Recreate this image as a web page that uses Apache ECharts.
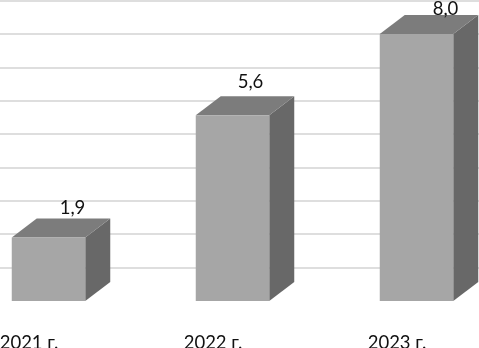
<!DOCTYPE html>
<html><head><meta charset="utf-8">
<style>html,body{margin:0;padding:0;background:#fff}#c{width:479px;height:348px}</style>
<script src="https://cdn.jsdelivr.net/npm/echarts@6/dist/echarts.min.js"></script>
</head><body><div id="c"></div>
<script>
const categories = ['2021 г.', '2022 г.', '2023 г.'];
const values = [1.9, 5.56, 8.0];
const tickValues = [0, 9];
const labelShiftX = [4, -2, 9];
const labelShiftY = [1, -2, 6];

const chart = echarts.init(document.getElementById('c'), null, {renderer: 'canvas'});
function poly(points, fill) {
  return {type: 'polygon', shape: {points}, style: {fill}};
}
chart.setOption({
  animation: false,
  backgroundColor: '#fff',
  grid: {left: -63, right: -10, top: 0.5, bottom: 47, outerBoundsMode: 'none', containLabel: false},
  xAxis: {
    type: 'category', data: categories,
    axisLine: {show: false}, axisTick: {show: false},
    axisLabel: {color: '#111', fontFamily: 'Lato', fontSize: 18.5, margin: 33, interval: 0}
  },
  yAxis: {
    type: 'value', min: tickValues[0], max: tickValues[1], interval: 1,
    axisLine: {show: false}, axisTick: {show: false}, axisLabel: {show: false},
    splitLine: {show: true, showMinLine: false, lineStyle: {color: '#dedede', width: 2}}
  },
  series: [{
    type: 'custom',
    data: values.map((v, i) => [i, v]),
    encode: {x: 0, y: 1},
    clip: false,
    renderItem(params, api) {
      const i = api.value(0), v = api.value(1);
      const top = api.coord([i, v]);
      const base = api.coord([i, 0]);
      const w = 73.5, dx = 25, dy = 19, off = 19.5;
      const x0 = top[0] + off - w / 2, x1 = x0 + w;
      const yT = top[1], yB = base[1];
      return {
        type: 'group',
        children: [
          poly([[x1, yT], [x1 + dx, yT - dy], [x1 + dx, yB - dy], [x1, yB]], '#686868'),
          poly([[x0, yT], [x0 + dx, yT - dy], [x1 + dx, yT - dy], [x1, yT]], '#7c7c7c'),
          poly([[x0, yT], [x1, yT], [x1, yB], [x0, yB]], '#a6a6a6'),
          {
            type: 'text',
            z2: 10,
            style: {
              x: x0 + w / 2 + 20 + labelShiftX[i],
              y: yT - dy - 12 + labelShiftY[i],
              text: v.toFixed(1).replace('.', ','),
              align: 'center', verticalAlign: 'middle',
              fill: '#111', font: '18.5px Lato'
            }
          }
        ]
      };
    }
  }]
});
</script></body></html>
